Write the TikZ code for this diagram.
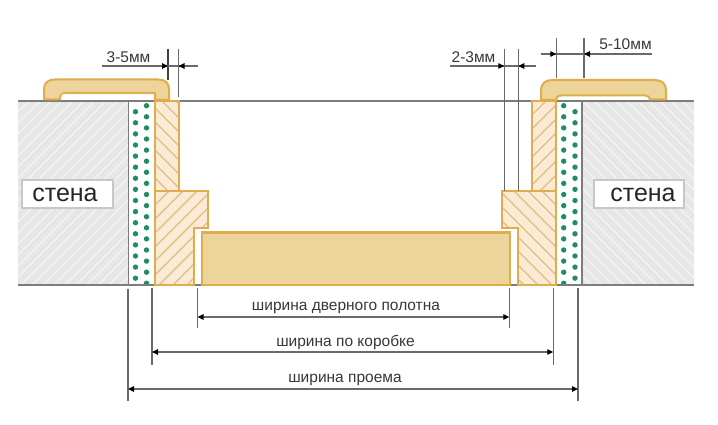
\documentclass[tikz,border=0pt]{standalone}
\usepackage{fontspec}
\setmainfont{Liberation Sans}
\usetikzlibrary{arrows.meta}
\definecolor{wallfill}{HTML}{E6E6E6}
\definecolor{wallhatch}{HTML}{F4F4F4}
\definecolor{rule}{HTML}{7C7C7C}
\definecolor{dimline}{HTML}{6A6A6A}
\definecolor{wood}{HTML}{DFAC4E}
\definecolor{woodfill}{HTML}{FBEAD6}
\definecolor{woodhatch}{HTML}{E2BD7E}
\definecolor{panel}{HTML}{EDD49A}
\definecolor{dotgreen}{HTML}{1F8F63}
\definecolor{txt}{HTML}{383838}
\tikzset{
  x=1pt,y=-1pt,
  woodline/.style={draw=wood,line width=2pt,line join=miter},
  dimthin/.style={draw=dimline,line width=1.1pt},
  extline/.style={draw=dimline,line width=1.3pt},
  tip/.style={-{Triangle[length=6pt,width=5.5pt,black]}},
  dimarrow/.style={draw=dimline,line width=1.2pt,{Triangle[length=6pt,width=5.5pt,black]}-{Triangle[length=6pt,width=5.5pt,black]}},
  dimtext/.style={font=\fontsize{15.5}{17}\selectfont,text=txt,inner sep=0pt},
  walltext/.style={font=\fontsize{25}{28}\selectfont,text=black!85,inner sep=0pt},
  wallbox/.style={fill=white,draw=black!22,line width=1.2pt},
  gdot/.style={fill=dotgreen,draw=none}
}
\begin{document}
\begin{tikzpicture}
\useasboundingbox (0,0) rectangle (718,425);
\fill[white] (0,0) rectangle (718,425);
% walls
\fill[wallfill] (18,101) rectangle (128,285);
\begin{scope}
\clip (18,101) rectangle (128,285);
\foreach \k in {0,...,30}{\draw[wallhatch,line width=1.3pt] (\k*11+10,285) -- +(190,-190);}
\foreach \k in {1,...,18}{\draw[wallhatch,line width=1.3pt] (10-\k*11,285) -- +(190,-190);}
\end{scope}
\fill[wallfill] (583,101) rectangle (694,285);
\begin{scope}
\clip (583,101) rectangle (694,285);
\foreach \k in {-18,...,12}{\draw[wallhatch,line width=1.3pt] (\k*11+583,101) -- +(190,190);}
\end{scope}
% insulation dots
\begin{scope}
\clip (129,101) rectangle (582,285);
\foreach \k in {0,...,15}{
  \fill[gdot] (135.5,111.7+\k*11.1) circle (2.7);
  \fill[gdot] (575,111.7+\k*11.1) circle (2.7);
}
\foreach \k in {0,...,16}{
  \fill[gdot] (146.5,105.7+\k*11.1) circle (2.7);
  \fill[gdot] (563.7,105.7+\k*11.1) circle (2.7);
}
\end{scope}
% wall faces
\draw[rule,line width=1.8pt] (128.4,101) -- (128.4,285);
\draw[rule,line width=2pt] (582.4,101) -- (582.4,285);
% surface lines
\draw[rule,line width=1.9pt] (18,101) -- (694,101);
\draw[rule,line width=1.9pt] (18,285) -- (694,285);
% left frame
\path[fill=woodfill] (155,101) -- (179,101) -- (179,191) -- (208,191) -- (208,228) -- (193.5,228) -- (193.5,285) -- (155,285) -- cycle;
\begin{scope}
\clip (155,101) rectangle (179,191);
\foreach \k in {-10,...,2}{\draw[woodhatch,line width=1.1pt] (155,\k*14+150) -- +(60,60);}
\end{scope}
\begin{scope}
\clip (155,191) -- (208,191) -- (208,228) -- (193.5,228) -- (193.5,285) -- (155,285) -- cycle;
\foreach \k in {0,...,12}{\draw[woodhatch,line width=1.1pt] (155,\k*14+191) -- +(100,-100);}
\end{scope}
\draw[woodline] (155,101) -- (179,101) -- (179,191) -- (208,191) -- (208,228) -- (193.5,228) -- (193.5,285) -- (155,285) -- cycle;
\draw[woodline] (155,191) -- (179,191);
% right frame
\path[fill=woodfill] (556,101) -- (532,101) -- (532,191) -- (502,191) -- (502,228) -- (517.5,228) -- (517.5,285) -- (556,285) -- cycle;
\begin{scope}
\clip (532,101) rectangle (556,191);
\foreach \k in {0,...,10}{\draw[woodhatch,line width=1.1pt] (532,\k*14+101) -- +(60,-60);}
\end{scope}
\begin{scope}
\clip (556,191) -- (502,191) -- (502,228) -- (517.5,228) -- (517.5,285) -- (556,285) -- cycle;
\foreach \k in {-6,...,8}{\draw[woodhatch,line width=1.1pt] (500,\k*14+191) -- +(100,100);}
\end{scope}
\draw[woodline] (556,101) -- (532,101) -- (532,191) -- (502,191) -- (502,228) -- (517.5,228) -- (517.5,285) -- (556,285) -- cycle;
\draw[woodline] (532,191) -- (556,191);
% door panel
\draw[woodline,line width=2.2pt,fill=panel] (202,232.5) rectangle (510,285);
% trims
\draw[woodline,fill=panel,line join=round] (44,99.5) -- (44,89) .. controls (44,83) and (48,79.5) .. (55,79.5) -- (158,79.5) .. controls (165,79.5) and (169,83) .. (169,89) -- (169,100) -- (155,100) -- (155,93) -- (66,93) .. controls (62,93) and (60,95) .. (60,99.5) -- cycle;
\fill[white] (62,94.3) -- (153.8,94.3) -- (153.8,99.8) -- (61.5,99.8) -- cycle;
\draw[woodline,fill=panel,line join=round] (666,99.5) -- (666,90) .. controls (666,84) and (662,80) .. (655,80) -- (552,80) .. controls (545,80) and (541,84) .. (541,90) -- (541,100) -- (556,100) .. controls (556,97) and (558,95.5) .. (562,95.5) -- (645,95.5) .. controls (648,95.5) and (650,97) .. (650,99.5) -- cycle;
% wall labels
\draw[wallbox] (22,180) rectangle (113,208);
\draw[wallbox] (594,180) rectangle (684,208);
\node[walltext] (stenaL) at (65,195) {стена};
\node[walltext] (stenaR) at (643,195) {стена};
% top dimensions
\coordinate (a1) at (168,49); \coordinate (a2) at (168,80);
\coordinate (b1) at (178.5,49); \coordinate (b2) at (178.5,97);
\draw[draw=black!75,line width=1.4pt] (a1) -- (a2);
\draw[extline] (b1) -- (b2);
\coordinate (c1) at (102,66); \coordinate (c2) at (198,66);
\draw[dimthin] (c1) -- (c2);
\draw[dimthin,tip] (160,66) -- (168,66);
\draw[dimthin,tip] (187,66) -- (178.5,66);
\node[dimtext] (t35) at (128.5,57.5) {3-5мм};
\coordinate (d1) at (504.3,49); \coordinate (d2) at (504.3,191);
\coordinate (e1) at (518.3,49); \coordinate (e2) at (518.3,191);
\draw[extline] (d1) -- (d2);
\draw[extline] (e1) -- (e2);
\draw[dimthin] (450,66) -- (536,66);
\draw[dimthin,tip] (496,66) -- (504.3,66);
\draw[dimthin,tip] (527,66) -- (518.3,66);
\node[dimtext] (t23) at (473.5,57.5) {2-3мм};
\coordinate (f1) at (556.3,38); \coordinate (f2) at (556.3,78);
\coordinate (g1) at (584,38); \coordinate (g2) at (584,78);
\draw[extline] (f1) -- (f2);
\draw[extline] (g1) -- (g2);
\draw[dimthin] (541,54) -- (652,54);
\draw[dimthin,tip] (548,54) -- (556.3,54);
\draw[dimthin,tip] (592,54) -- (584,54);
\node[dimtext] (t510) at (625.5,44) {5-10мм};
% bottom dimensions
\draw[extline] (128,289) -- (128,401);
\draw[extline] (152,288) -- (152,365);
\draw[extline] (197.5,288) -- (197.5,328);
\draw[extline] (509.3,288) -- (509.3,328);
\draw[extline] (553.3,288) -- (553.3,365);
\draw[extline] (578,288) -- (578,401);
\coordinate (w1) at (197.5,317); \coordinate (w2) at (509.3,317);
\coordinate (k1) at (152,352); \coordinate (k2) at (553.3,352);
\coordinate (p1) at (128,389); \coordinate (p2) at (578,389);
\draw[dimarrow] (w1) -- (w2);
\draw[dimarrow] (k1) -- (k2);
\draw[dimarrow] (p1) -- (p2);
\node[dimtext] (tw) at (346,308) {ширина дверного полотна};
\node[dimtext] (tk) at (345.5,342) {ширина по коробке};
\node[dimtext] (tp) at (345,380) {ширина проема};
\end{tikzpicture}
\end{document}
